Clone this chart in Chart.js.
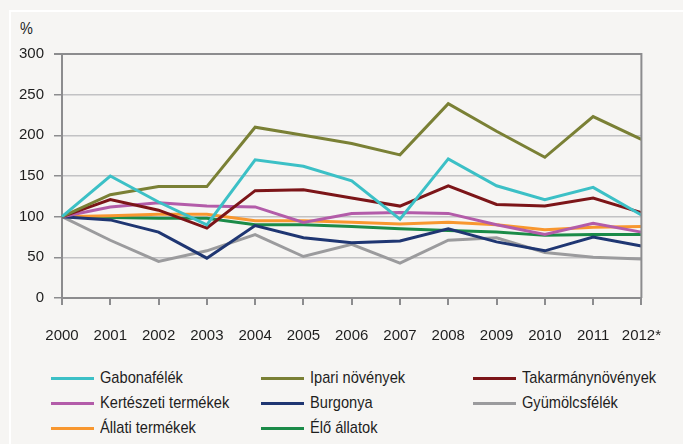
<!DOCTYPE html>
<html>
<head>
<meta charset="utf-8">
<script src="https://cdn.jsdelivr.net/npm/chart.js@4/dist/chart.umd.min.js"></script>
<style>
  body { margin: 0; background: #f6f5f3; font-family: 'Liberation Sans', Arial, sans-serif; color: #1e1e1e; }
  #wrap { position: relative; width: 683px; height: 444px; overflow: hidden; }
  #frame { position: absolute; left: 9px; top: 10px; width: 700px; height: 460px; border-left: 2px solid #fff; border-top: 2px solid #fff; }
  #chart { position: absolute; left: 0; top: 0; }
  #unit { position: absolute; left: 20px; top: 19px; font-size: 17px; transform: scaleX(0.85); transform-origin: left; }
  .item { position: absolute; height: 20px; }
  .item span.ln { position: absolute; left: 0; top: 9px; height: 3px; width: 43px; }
  .item span.tx { position: absolute; left: 49px; top: 0; font-size: 17px; line-height: 20px; white-space: nowrap;
                  transform: scaleX(0.86); transform-origin: left; }
</style>
</head>
<body>
<div id="wrap">
  <div id="frame"></div>
  <div id="unit">%</div>
  <canvas id="chart" width="683" height="360"></canvas>
  <div id="legend"></div>
</div>
<script>
/*----------- data ------------ */
const years = ['2000', '2001', '2002', '2003', '2004', '2005', '2006', '2007', '2008', '2009', '2010', '2011', '2012*'];

const gabona      = [100, 150, 118, 90, 170, 162, 144, 97, 171, 138, 121, 136, 102];
const ipari       = [100, 127, 137, 137, 210, 200, 190, 176, 239, 205, 173, 223, 195];
const takarmany   = [100, 121, 108, 86, 132, 133, 123, 113, 138, 115, 113, 123, 105];
const kerteszeti  = [100, 112, 117, 113, 112, 93, 104, 105, 104, 90, 78, 92, 81];
const burgonya    = [100, 96, 81, 49, 89, 74, 68, 70, 85, 69, 58, 75, 64];
const gyumolcs    = [100, 71, 45, 58, 78, 51, 66, 43, 71, 74, 56, 50, 48];
const allati      = [100, 101, 103, 103, 95, 95, 93, 91, 93, 90, 84, 87, 88];
const eloAllatok  = [100, 99, 98, 98, 90, 90, 88, 85, 83, 81, 77, 78, 78];

const seriesNames = ['Gabonafélék', 'Ipari növények', 'Takarmánynövények', 'Kertészeti termékek',
  'Burgonya', 'Gyümölcsfélék', 'Állati termékek', 'Élő állatok'];
const seriesData = [gabona, ipari, takarmany, kerteszeti, burgonya, gyumolcs, allati, eloAllatok];
const seriesColors = ['#3cc0c6', '#7a8035', '#7c1518', '#b35ca9', '#1f3672', '#9b9b9d', '#f8972f', '#1b8b48'];

const yTicks = [0, 50, 100, 150, 200, 250, 300];

/*----------- chart ------------ */
Chart.defaults.font.family = "'Liberation Sans', Arial, sans-serif";
Chart.defaults.font.size = 15;
Chart.defaults.color = '#1e1e1e';

const frame = {
    id: 'frame',
    afterDraw(chart) {
        const a = chart.chartArea;
        const ctx = chart.ctx;
        ctx.save();
        ctx.strokeStyle = '#8c8c8e';
        ctx.lineWidth = 2;
        ctx.beginPath();
        ctx.moveTo(a.left, a.top);
        ctx.lineTo(a.right, a.top);
        ctx.lineTo(a.right, a.bottom);
        ctx.stroke();
        ctx.restore();
    }
};

const datasets = seriesNames.map((name, i) => ({
    label: name,
    data: seriesData[i],
    borderColor: seriesColors[i],
    backgroundColor: seriesColors[i],
    borderWidth: 3,
    pointRadius: 0,
    tension: 0,
    fill: false
}));

new Chart(document.getElementById('chart'), {
    type: 'line',
    data: { labels: years, datasets: datasets },
    plugins: [frame],
    options: {
        responsive: false,
        animation: false,
        layout: { padding: { left: 0, right: 27, top: 54, bottom: 0 } },
        plugins: { legend: { display: false }, tooltip: { enabled: false } },
        scales: {
            x: {
                afterFit(s) { s.height = 62; },
                grid: { drawOnChartArea: false, drawTicks: true, tickLength: 7, color: '#8c8c8e', lineWidth: 2 },
                border: { color: '#8c8c8e', width: 2 },
                ticks: { padding: 22, maxRotation: 0, autoSkip: false }
            },
            y: {
                min: 0,
                max: 300,
                afterFit(s) { s.width = 62; },
                afterBuildTicks(s) { s.ticks = yTicks.map(v => ({ value: v })); },
                grid: {
                    color: c => c.tick && c.tick.value === 300 ? '#8c8c8e' : '#c2c2c4',
                    lineWidth: c => c.tick && c.tick.value === 300 ? 2 : 1.5,
                    tickColor: '#8c8c8e',
                    tickLength: 8
                },
                border: { color: '#8c8c8e', width: 2 },
                ticks: { padding: 10 }
            }
        }
    }
});

/*----------- legend ------------ */
const colX = [51, 261, 473];
const rowY = [368, 393, 418];
const legend = document.getElementById('legend');
seriesNames.forEach((name, i) => {
    const el = document.createElement('div');
    el.className = 'item';
    el.style.left = colX[i % 3] + 'px';
    el.style.top = rowY[Math.floor(i / 3)] + 'px';
    el.innerHTML = '<span class="ln" style="background:' + seriesColors[i] + '"></span><span class="tx">' + name + '</span>';
    legend.appendChild(el);
});
</script>
</body>
</html>
